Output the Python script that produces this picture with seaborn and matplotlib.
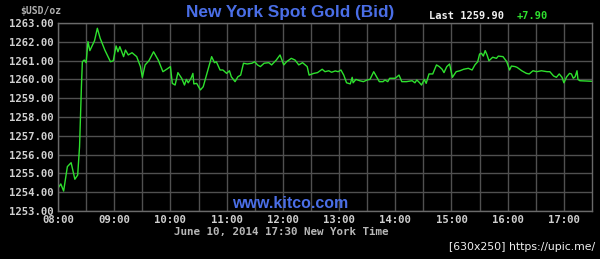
import matplotlib
matplotlib.use("Agg")
import matplotlib.pyplot as plt
import seaborn as sns
import pandas as pd

# minutes after 08:00 (New York time)
minutes = [0, 3, 6, 10, 14, 18, 21, 23, 25, 26, 28, 30, 32, 34, 39, 42, 45, 50, 56, 59,
           62, 64, 66, 70, 72, 75, 79, 84, 88, 90, 93, 97, 102, 107, 112, 116, 120, 122, 125, 128,
           132, 135, 137, 139, 142, 144, 145, 148, 152, 155, 159, 162, 164, 167, 169, 173, 176, 180, 183, 185,
           189, 192, 195, 198, 202, 207, 210, 213, 216, 220, 225, 228, 233, 237, 241, 244, 249, 253, 257, 261,
           266, 268, 273, 277, 282, 285, 289, 292, 296, 299, 302, 305, 308, 312, 314, 315, 318, 322, 326, 330,
           333, 337, 340, 343, 347, 349, 352, 354, 360, 364, 367, 372, 378, 381, 383, 386, 388, 391, 393, 396,
           400, 404, 407, 410, 412, 415, 418, 421, 425, 429, 433, 438, 442, 445, 448, 450, 452, 454, 456, 458,
           460, 464, 468, 470, 475, 479, 482, 484, 488, 490, 495, 500, 503, 507, 511, 516, 522, 525, 529, 532,
           535, 538, 540, 543, 546, 548, 550, 552, 554, 555, 557, 570]
bid = [1254.21, 1254.44, 1254.06, 1255.36, 1255.57, 1254.69, 1254.91, 1256.42, 1259.61, 1260.94,
       1261.03, 1260.89, 1262.01, 1261.53, 1262.06, 1262.72, 1262.19, 1261.56, 1260.94, 1260.99,
       1261.78, 1261.47, 1261.74, 1261.21, 1261.56, 1261.30, 1261.42, 1261.21, 1260.68, 1260.11,
       1260.77, 1260.99, 1261.47, 1261.03, 1260.41, 1260.54, 1260.68, 1259.79, 1259.70, 1260.36,
       1260.06, 1259.70, 1260.00, 1259.82, 1260.06, 1260.32, 1259.76, 1259.79, 1259.44, 1259.61,
       1260.32, 1260.86, 1261.21, 1260.89, 1260.94, 1260.50, 1260.50, 1260.32, 1260.46, 1260.14,
       1259.88, 1260.14, 1260.23, 1260.86, 1260.82, 1260.86, 1260.94, 1260.77, 1260.68, 1260.86,
       1260.89, 1260.77, 1261.03, 1261.30, 1260.77, 1260.94, 1261.12, 1261.03, 1260.77, 1260.89,
       1260.68, 1260.23, 1260.32, 1260.36, 1260.54, 1260.41, 1260.46, 1260.38, 1260.45, 1260.41,
       1260.50, 1260.23, 1259.82, 1259.76, 1260.11, 1259.82, 1260.00, 1259.93, 1259.88, 1259.97,
       1260.00, 1260.41, 1260.14, 1259.88, 1259.88, 1259.97, 1259.88, 1260.06, 1260.06, 1260.23,
       1259.88, 1259.88, 1259.93, 1259.82, 1259.97, 1259.82, 1259.70, 1260.00, 1259.79, 1260.29,
       1260.29, 1260.77, 1260.68, 1260.54, 1260.36, 1260.68, 1260.82, 1260.11, 1260.41, 1260.46,
       1260.54, 1260.59, 1260.50, 1260.77, 1260.94, 1261.35, 1261.39, 1261.24, 1261.53, 1261.30,
       1260.99, 1261.18, 1261.12, 1261.24, 1261.21, 1260.94, 1260.50, 1260.71, 1260.68, 1260.64,
       1260.46, 1260.32, 1260.29, 1260.46, 1260.41, 1260.46, 1260.41, 1260.41, 1260.18, 1260.11,
       1260.29, 1260.11, 1259.82, 1260.14, 1260.32, 1260.29, 1260.06, 1260.14, 1260.46, 1260.00,
       1259.93, 1259.90]

x_tick_minutes = [0, 60, 120, 180, 240, 300, 360, 420, 480, 540]
x_tick_labels = ["08:00", "09:00", "10:00", "11:00", "12:00", "13:00", "14:00", "15:00", "16:00", "17:00"]
y_ticks = [1253, 1254, 1255, 1256, 1257, 1258, 1259, 1260, 1261, 1262, 1263]

title = "New York Spot Gold (Bid)"
last_text = "Last 1259.90"
change_text = "+7.90"
unit_text = "$USD/oz"
site_text = "www.kitco.com"
date_text = "June 10, 2014 17:30 New York Time"
credit_text = "[630x250] https://upic.me/"

df = pd.DataFrame({"minutes": minutes, "bid": bid})

sns.set_style("dark", {"axes.facecolor": "black", "figure.facecolor": "black",
                       "axes.edgecolor": "#6a6a6a", "grid.color": "#505050"})

fig = plt.figure(figsize=(6.0, 2.59), dpi=100)
ax = fig.add_axes([58 / 600, 1 - 211 / 259, (592 - 58) / 600, (211 - 23) / 259])
ax.set_facecolor("black")

sns.lineplot(data=df, x="minutes", y="bid", ax=ax, color="#2ee02e", linewidth=1.0)

ax.set_xlim(0, 570)
ax.set_ylim(1253, 1263)
ax.set_xticks(x_tick_minutes)
ax.set_xticklabels(x_tick_labels)
ax.set_xticks(list(range(30, 570, 60)), minor=True)
ax.set_yticks(y_ticks)
ax.set_yticklabels([f"{v:.2f}" for v in y_ticks])
ax.grid(True, which="both", color="#505050", linewidth=1.0)
ax.set_axisbelow(True)
ax.set_xlabel("")
ax.set_ylabel("")
ax.tick_params(axis="both", which="both", length=0, colors="#d0d0d0", labelsize=7.7, pad=3)
for lbl in ax.get_xticklabels() + ax.get_yticklabels():
    lbl.set_family("DejaVu Sans Mono")
    lbl.set_fontweight("bold")
    lbl.set_color("#d0d0d0")
for sp in ax.spines.values():
    sp.set_color("#6a6a6a")
    sp.set_linewidth(1.0)

fig.text(290 / 600, 1 - 12 / 259, title, color="#4a6ee6", fontsize=12.4, fontweight="bold",
         family="Liberation Sans", ha="center", va="center")
fig.text(429 / 600, 1 - 16 / 259, last_text, color="#f0f0f0", fontsize=7.5, fontweight="bold",
         family="DejaVu Sans Mono", ha="left", va="center")
fig.text(517 / 600, 1 - 16 / 259, change_text, color="#2ee02e", fontsize=7.5, fontweight="bold",
         family="DejaVu Sans Mono", ha="left", va="center")
fig.text(41 / 600, 1 - 11 / 259, unit_text, color="#b0b0b0", fontsize=7, fontweight="bold",
         family="DejaVu Sans Mono", ha="center", va="center")
fig.text(290 / 600, 1 - 203 / 259, site_text, color="#4a6ee6", fontsize=11.5, fontweight="bold",
         family="Liberation Sans", ha="center", va="center")
fig.text(281 / 600, 1 - 232 / 259, date_text, color="#b8b8b8", fontsize=7.8, fontweight="bold",
         family="DejaVu Sans Mono", ha="center", va="center")
fig.text(595 / 600, 1 - 247 / 259, credit_text, color="#f0f0f0", fontsize=7.8,
         family="DejaVu Sans", ha="right", va="center")

fig.savefig("out.png", dpi=100, facecolor="black")
